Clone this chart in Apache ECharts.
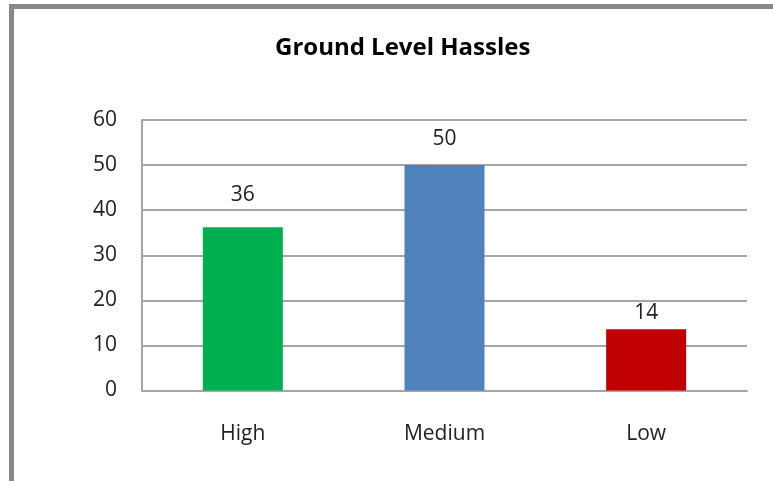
<!DOCTYPE html>
<html>
<head>
<meta charset="utf-8">
<script src="https://cdn.jsdelivr.net/npm/echarts@6/dist/echarts.min.js"></script>
<style>
  html, body { margin: 0; padding: 0; background: #fff; }
  #chart { width: 773px; height: 481px; }
</style>
</head>
<body>
<div id="chart"></div>
<script>
  const categories = ['High', 'Medium', 'Low'];
  const values = [36.2, 50, 13.6];
  const barColors = ['#00b050', '#4f81bd', '#c00000'];
  const yTicks = [0, 10, 20, 30, 40, 50, 60];

  // Excel puts the data labels at slightly different gaps above each bar
  const labelGaps = [22, 16, 6];

  const myChart = echarts.init(document.getElementById('chart'));
  const font = '"Open Sans", "Noto Sans", sans-serif';

  const option = {
    animation: false,
    backgroundColor: '#fff',
    title: {
      text: 'Ground Level Hassles',
      left: 270,
      top: 31,
      textStyle: { fontFamily: font, fontSize: 24, fontWeight: 'bold', color: '#000' }
    },
    graphic: [{
      type: 'rect',
      shape: { x: 11.5, y: 6.5, width: 900, height: 600 },
      style: { fill: 'none', stroke: '#888888', lineWidth: 5 },
      silent: true
    }],
    grid: { left: 142, right: 26, top: 120, bottom: 90.5 },
    xAxis: {
      type: 'category',
      data: categories,
      axisLine: { lineStyle: { color: '#a6a6a6', width: 2 } },
      axisTick: { show: false },
      axisLabel: { fontFamily: font, fontSize: 21, color: '#222', margin: 33 }
    },
    yAxis: {
      type: 'value',
      min: yTicks[0],
      max: yTicks[yTicks.length - 1],
      interval: 10,
      axisLine: { show: true, lineStyle: { color: '#a6a6a6', width: 2 } },
      axisTick: { show: false },
      splitLine: { lineStyle: { color: '#a6a6a6', width: 2 } },
      axisLabel: { fontFamily: font, fontSize: 21, color: '#222', margin: 25 }
    },
    series: [{
      type: 'bar',
      barWidth: 80,
      data: values.map((v, i) => ({
        value: v,
        itemStyle: { color: barColors[i] },
        label: { distance: labelGaps[i] }
      })),
      label: {
        show: true,
        position: 'top',
        fontFamily: font,
        fontSize: 21,
        color: '#222',
        formatter: p => Math.round(p.value)
      }
    }]
  };

  option && myChart.setOption(option);
</script>
</body>
</html>
